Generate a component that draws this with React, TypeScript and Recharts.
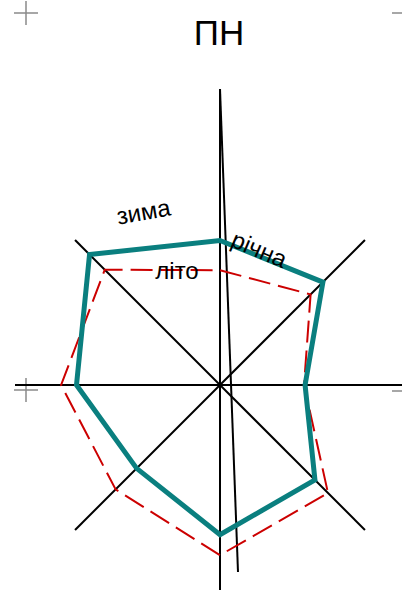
import React from 'react';
import {
  RadarChart,
  Radar,
  PolarGrid,
  PolarAngleAxis,
  PolarRadiusAxis
} from 'recharts';

// wind directions, clockwise from north
const directions = ['Пн', 'ПнСх', 'Сх', 'ПдСх', 'Пд', 'ПдЗх', 'Зх', 'ПнЗх'];
// repeat frequency, %
const winterValues = [14.1, 14.2, 8.3, 13.1, 14.6, 11.5, 14.0, 18.0];
const summerValues = [11.2, 12.5, 8.2, 14.9, 16.6, 14.4, 15.5, 15.9];
const radiusDomain = [0, 20];

const W = 402;
const H = 598;
const CX = 220;
const CY = 385;
const R = 205;
const FONT = '"Liberation Sans", Arial, sans-serif';

const data = directions.map((dir, i) => ({
  dir,
  winter: winterValues[i],
  summer: summerValues[i]
}));

const Cross: React.FC<{ x: number; y: number }> = ({ x, y }) => (
  <g stroke="#8a8a8a" strokeWidth={1.5}>
    <line x1={x - 12} y1={y} x2={x + 12} y2={y} />
    <line x1={x} y1={y - 12} x2={x} y2={y + 12} />
  </g>
);

export default function App() {
  return (
    <div style={{ position: 'absolute', left: 0, top: 0, width: W, height: H, background: '#fff', overflow: 'hidden' }}>
      {/* under layer: north extension, meridian line, corner marks */}
      <svg width={W} height={H} style={{ position: 'absolute', left: 0, top: 0, zIndex: 0 }}>
        <line x1={CX} y1={CY} x2={CX} y2={89} stroke="#000" strokeWidth={2} />
        <line x1={CX} y1={89} x2={238} y2={572} stroke="#000" strokeWidth={2} />
        <Cross x={26} y={13} />
        <Cross x={26} y={390} />
        <Cross x={404} y={13} />
        <Cross x={404} y={391} />
      </svg>
      <div style={{ position: 'absolute', left: 0, top: 0, zIndex: 1 }}>
        <RadarChart
          width={W}
          height={H}
          cx={CX}
          cy={CY}
          outerRadius={R}
          data={data}
          margin={{ top: 0, right: 0, bottom: 0, left: 0 }}
        >
          <PolarGrid gridType="polygon" polarRadius={[]} stroke="#000" strokeWidth={2} />
          <PolarAngleAxis dataKey="dir" tick={false} axisLine={false} tickLine={false} />
          <PolarRadiusAxis domain={radiusDomain} tick={false} axisLine={false} tickLine={false} />
          <Radar
            name="літо"
            dataKey="summer"
            stroke="#cc0000"
            strokeWidth={2}
            strokeDasharray="22 8"
            fill="none"
            fillOpacity={0}
            isAnimationActive={false}
          />
          <Radar
            name="зима"
            dataKey="winter"
            stroke="#0a7f7f"
            strokeWidth={5}
            fill="none"
            fillOpacity={0}
            isAnimationActive={false}
          />
        </RadarChart>
      </div>
      {/* labels on top */}
      <svg width={W} height={H} style={{ position: 'absolute', left: 0, top: 0, zIndex: 2 }}>
        <text x={219} y={45} textAnchor="middle" fontFamily={FONT} fontSize={35} fill="#000">ПН</text>
        <text x={145} y={220} textAnchor="middle" fontFamily={FONT} fontSize={24} fill="#000" transform="rotate(-10 145 220)">зима</text>
        <text x={256} y={257} textAnchor="middle" fontFamily={FONT} fontSize={24} fill="#000" transform="rotate(23 256 257)">річна</text>
        <text x={177} y={279} textAnchor="middle" fontFamily={FONT} fontSize={24} fill="#000">літо</text>
      </svg>
    </div>
  );
}
